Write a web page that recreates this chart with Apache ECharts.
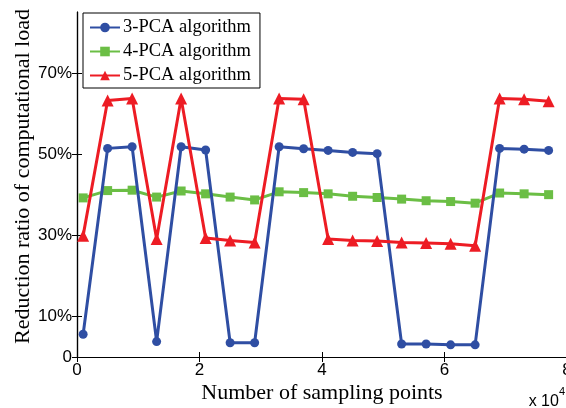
<!DOCTYPE html>
<html>
<head>
<meta charset="utf-8">
<script src="https://cdn.jsdelivr.net/npm/echarts@6/dist/echarts.min.js"></script>
<style>
  html, body { margin: 0; padding: 0; background: #fff; }
  #chart { width: 566px; height: 408px; }
</style>
</head>
<body>
<div id="chart"></div>
<script>
// Sampling points (in units of 10^4)
const samplingPoints = [0.1, 0.5, 0.9, 1.3, 1.7, 2.1, 2.5, 2.9, 3.3, 3.7, 4.1, 4.5, 4.9, 5.3, 5.7, 6.1, 6.5, 6.9, 7.3, 7.7];

// Reduction ratio of computational load (%)
const pca3 = [5.6, 51.4, 51.8, 3.8, 51.8, 51.0, 3.5, 3.5, 51.8, 51.3, 50.9, 50.4, 50.1, 3.2, 3.2, 3.0, 3.0, 51.4, 51.2, 50.9];
const pca4 = [39.2, 41.0, 41.1, 39.4, 40.9, 40.2, 39.4, 38.7, 40.7, 40.5, 40.2, 39.6, 39.3, 38.9, 38.5, 38.3, 37.9, 40.4, 40.2, 40.0];
const pca5 = [29.9, 63.2, 63.7, 29.1, 63.7, 29.3, 28.7, 28.2, 63.7, 63.5, 29.1, 28.7, 28.6, 28.2, 28.1, 27.9, 27.4, 63.7, 63.5, 63.0];

const seriesNames = ['3-PCA algorithm', '4-PCA algorithm', '5-PCA algorithm'];
const yTickValues = [0, 10, 30, 50, 70];
const xTickValues = [0, 2, 4, 6, 8];

const pairs = ys => samplingPoints.map((x, i) => [x, ys[i]]);

const sans = 'Liberation Sans, Arial, sans-serif';
const serif = 'Liberation Serif, Times New Roman, serif';

const tickStyle = { show: true, inside: true, length: 5, lineStyle: { color: '#000', width: 1 } };
const lineStyle = { show: true, lineStyle: { color: '#000', width: 1.2 } };

const chart = echarts.init(document.getElementById('chart'), null, { renderer: 'canvas' });

chart.setOption({
  animation: false,
  backgroundColor: '#fff',
  grid: { left: 77, top: 12, right: -1, bottom: 51, containLabel: false, outerBoundsMode: 'none' },
  legend: {
    orient: 'vertical',
    left: 83,
    top: 13,
    padding: [5, 9, 3, 6],
    itemGap: 5,
    itemWidth: 30,
    itemHeight: 12,
    borderColor: '#000',
    borderWidth: 1,
    backgroundColor: '#fff',
    borderRadius: 0,
    textStyle: { fontFamily: serif, fontSize: 18.5, color: '#000', padding: [0, 0, 0, -2], lineHeight: 18.5 },
    data: seriesNames
  },
  xAxis: [
    {
      type: 'value', min: 0, max: 8, interval: 2,
      name: 'Number of sampling points', nameLocation: 'middle', nameGap: 25,
      nameMoveOverlap: false,
      nameTextStyle: { fontFamily: serif, fontSize: 22, color: '#000' },
      axisLine: lineStyle,
      axisTick: tickStyle,
      axisLabel: { fontFamily: sans, fontSize: 17, color: '#000', margin: 5, customValues: xTickValues },
      splitLine: { show: false }
    },
    {
      type: 'value', min: 0, max: 8, interval: 2, position: 'top',
      axisLine: lineStyle, axisTick: tickStyle,
      axisLabel: { show: false }, splitLine: { show: false }
    }
  ],
  yAxis: [
    {
      type: 'value', min: 0, max: 85,
      name: 'Reduction ratio of computational load', nameLocation: 'middle', nameGap: 43,
      nameMoveOverlap: false,
      nameTextStyle: { fontFamily: serif, fontSize: 22, color: '#000', padding: [0, 0, 0, 16] },
      axisLine: lineStyle,
      axisTick: Object.assign({}, tickStyle, { customValues: yTickValues }),
      axisLabel: {
        fontFamily: sans, fontSize: 17, color: '#000', margin: 5,
        customValues: yTickValues,
        formatter: v => (v === 0 ? '0' : v + '%')
      },
      splitLine: { show: false }
    },
    {
      type: 'value', min: 0, max: 85, position: 'right',
      axisLine: lineStyle,
      axisTick: Object.assign({}, tickStyle, { customValues: yTickValues }),
      axisLabel: { show: false }, splitLine: { show: false }
    }
  ],
  graphic: [
    {
      type: 'text', right: 1, top: 386,
      style: {
        text: '{b|x 10}{s|4}',
        rich: {
          b: { fontFamily: sans, fontSize: 16, fill: '#000', verticalAlign: 'bottom', padding: [8, 0, 0, 0] },
          s: { fontFamily: sans, fontSize: 11, fill: '#000', verticalAlign: 'top' }
        }
      }
    }
  ],
  series: [
    {
      name: seriesNames[0], type: 'line', data: pairs(pca3),
      color: '#2F4EA3', symbol: 'circle', symbolSize: 9,
      lineStyle: { width: 3 }, itemStyle: { color: '#2F4EA3' }, z: 3
    },
    {
      name: seriesNames[1], type: 'line', data: pairs(pca4),
      color: '#6BBE45', symbol: 'rect', symbolSize: 9,
      lineStyle: { width: 3 }, itemStyle: { color: '#6BBE45' }, z: 2
    },
    {
      name: seriesNames[2], type: 'line', data: pairs(pca5),
      color: '#ED1C24', symbol: 'triangle', symbolSize: 12,
      lineStyle: { width: 3 }, itemStyle: { color: '#ED1C24' }, z: 4
    }
  ]
});
</script>
</body>
</html>
